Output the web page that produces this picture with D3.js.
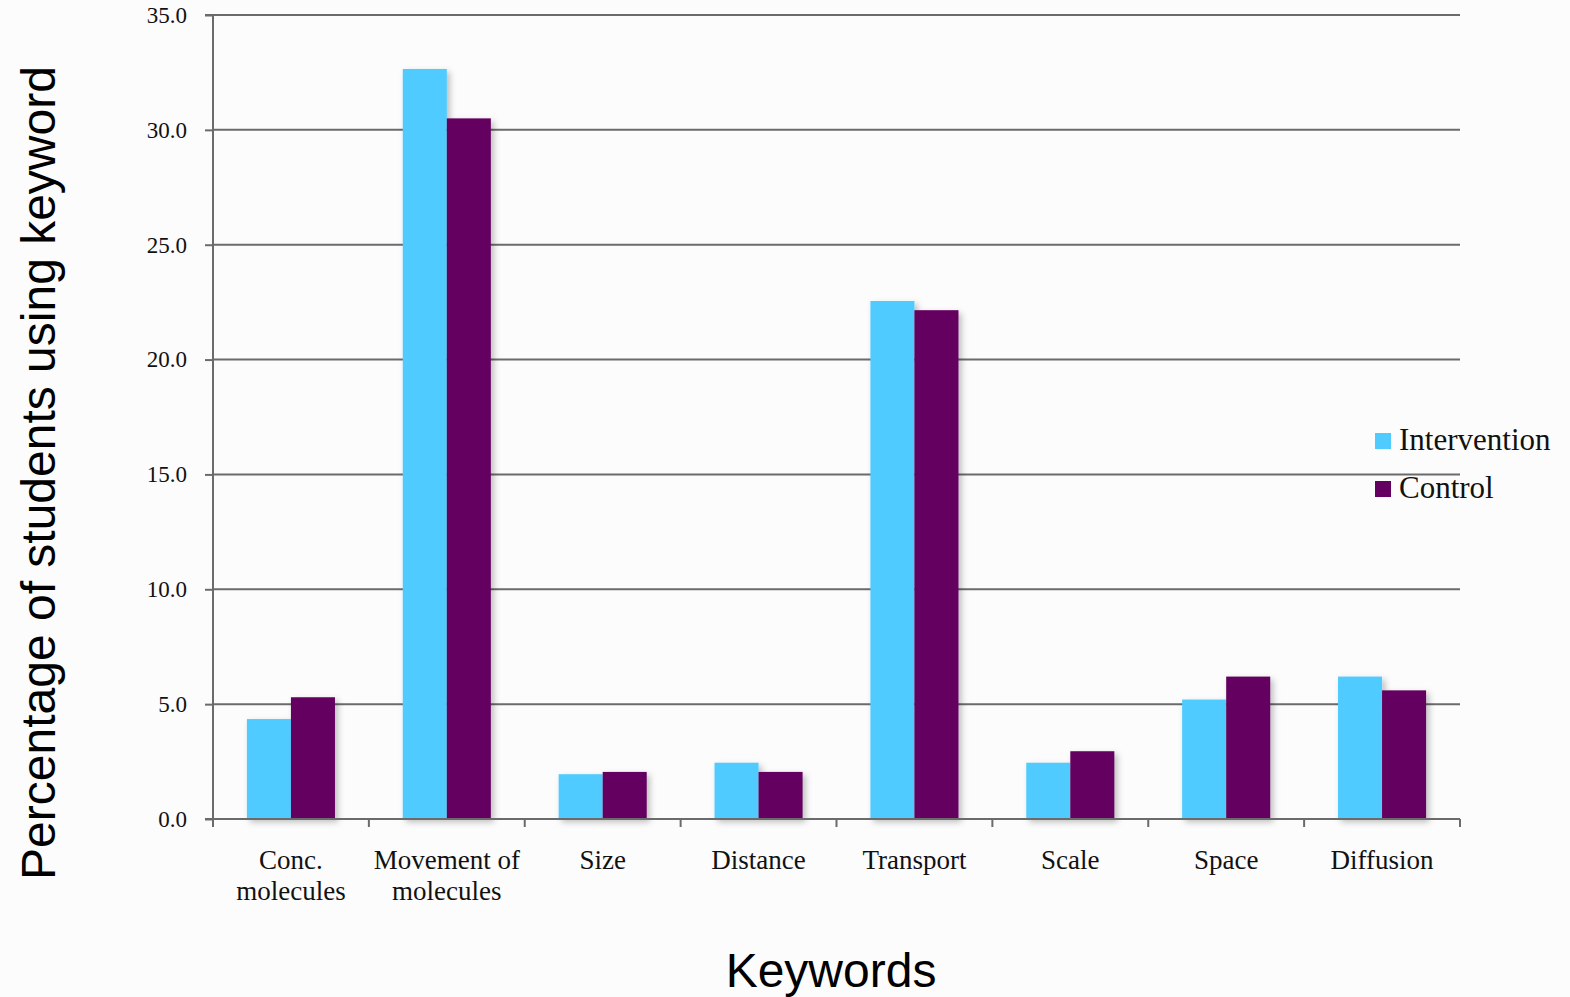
<!DOCTYPE html>
<html><head><meta charset="utf-8">
<script src="https://cdn.jsdelivr.net/npm/d3@7"></script>
<style>html,body{margin:0;padding:0;background:#fcfcfc;}</style>
</head><body>
<script>
const categories = [["Conc.","molecules"],["Movement of","molecules"],["Size"],["Distance"],["Transport"],["Scale"],["Space"],["Diffusion"]];
const seriesNames = ["Intervention","Control"];
const intervention = [4.35, 32.65, 1.95, 2.45, 22.55, 2.45, 5.2, 6.2];
const control = [5.3, 30.5, 2.05, 2.05, 22.15, 2.95, 6.2, 5.6];
const yTicks = [0,5,10,15,20,25,30,35];
const colors = ["#4fcbff","#630060"];

const W=1570,H=997;
const m={l:213,r:1460,t:15,b:819};
const svg=d3.select("body").append("svg").attr("width",W).attr("height",H);
svg.append("rect").attr("width",W).attr("height",H).attr("fill","#fcfcfc");
const defs=svg.append("defs");
const f=defs.append("filter").attr("id","sh").attr("x","-20%").attr("y","-5%").attr("width","150%").attr("height","115%");
f.append("feDropShadow").attr("dx",3).attr("dy",3).attr("stdDeviation",3).attr("flood-color","#000").attr("flood-opacity",0.25);

const keys=categories.map(c=>c.join(" "));
const x=d3.scaleBand().domain(keys).range([m.l,m.r]).paddingInner(0).paddingOuter(0);
const y=d3.scaleLinear().domain([0,35]).range([m.b,m.t]);
const groupW=x.bandwidth()*0.565;
const x1=d3.scaleBand().domain(seriesNames).range([0,groupW]);

// gridlines
svg.append("g").selectAll("line").data(yTicks.filter(d=>d>0)).join("line")
 .attr("x1",m.l).attr("x2",m.r).attr("y1",d=>y(d)).attr("y2",d=>y(d))
 .attr("stroke","#6b6b6b").attr("stroke-width",2);

// y axis
const ya=svg.append("g").attr("transform",`translate(${m.l},0)`).call(d3.axisLeft(y).tickValues(yTicks).tickSize(8).tickPadding(18).tickFormat(d3.format(".1f")));
ya.select(".domain").attr("stroke","#6b6b6b").attr("stroke-width",2).attr("d",`M-8,${m.t}H0V${m.b}H-8`);
ya.selectAll(".tick line").attr("stroke","#6b6b6b").attr("stroke-width",2);
ya.selectAll(".tick text").attr("font-family","Liberation Serif, serif").attr("font-size",23).attr("fill","#111");

// bars
const data=keys.map((k,i)=>({k,vals:[intervention[i],control[i]]}));
const g=svg.append("g").attr("filter","url(#sh)");
data.forEach(d=>{
  d.vals.forEach((v,j)=>{
    g.append("rect").attr("x",x(d.k)+(x.bandwidth()-groupW)/2+x1(seriesNames[j]))
     .attr("width",x1.bandwidth()).attr("y",y(v)).attr("height",y(0)-y(v)).attr("fill",colors[j]);
  });
});

// x axis
const xa=svg.append("g").attr("transform",`translate(0,${m.b})`).call(d3.axisBottom(x).tickSize(0).tickFormat(""));
xa.select(".domain").attr("stroke","#6b6b6b").attr("stroke-width",2).attr("d",`M${m.l},0H${m.r}`);
const tickPos=d3.range(keys.length+1).map(i=>m.l+i*x.bandwidth());
svg.append("g").selectAll("line").data(tickPos).join("line")
 .attr("x1",d=>d).attr("x2",d=>d).attr("y1",m.b).attr("y2",m.b+8).attr("stroke","#6b6b6b").attr("stroke-width",2);

// category labels
categories.forEach((c,i)=>{
  const t=svg.append("text").attr("x",x(keys[i])+x.bandwidth()/2).attr("y",869)
   .attr("text-anchor","middle").attr("font-family","Liberation Serif, serif").attr("font-size",27).attr("fill","#111");
  c.forEach((line,li)=>t.append("tspan").attr("x",x(keys[i])+x.bandwidth()/2).attr("dy",li?31:0).text(line));
});

// axis titles
svg.append("text").attr("transform","translate(55,473) rotate(-90)").attr("text-anchor","middle")
 .attr("font-family","Liberation Sans, Arial, sans-serif").attr("font-size",48).attr("fill","#000").text("Percentage of students using keyword");
svg.append("text").attr("x",831).attr("y",987).attr("text-anchor","middle")
 .attr("font-family","Liberation Sans, Arial, sans-serif").attr("font-size",48).attr("fill","#000").text("Keywords");

// legend
const lg=svg.append("g");
seriesNames.forEach((s,i)=>{
  lg.append("rect").attr("x",1375).attr("y",433+i*48).attr("width",16).attr("height",16).attr("fill",colors[i]);
  lg.append("text").attr("x",1399).attr("y",450+i*48).attr("font-family","Liberation Serif, serif").attr("font-size",31).attr("fill","#111").text(s);
});
</script>
</body></html>
